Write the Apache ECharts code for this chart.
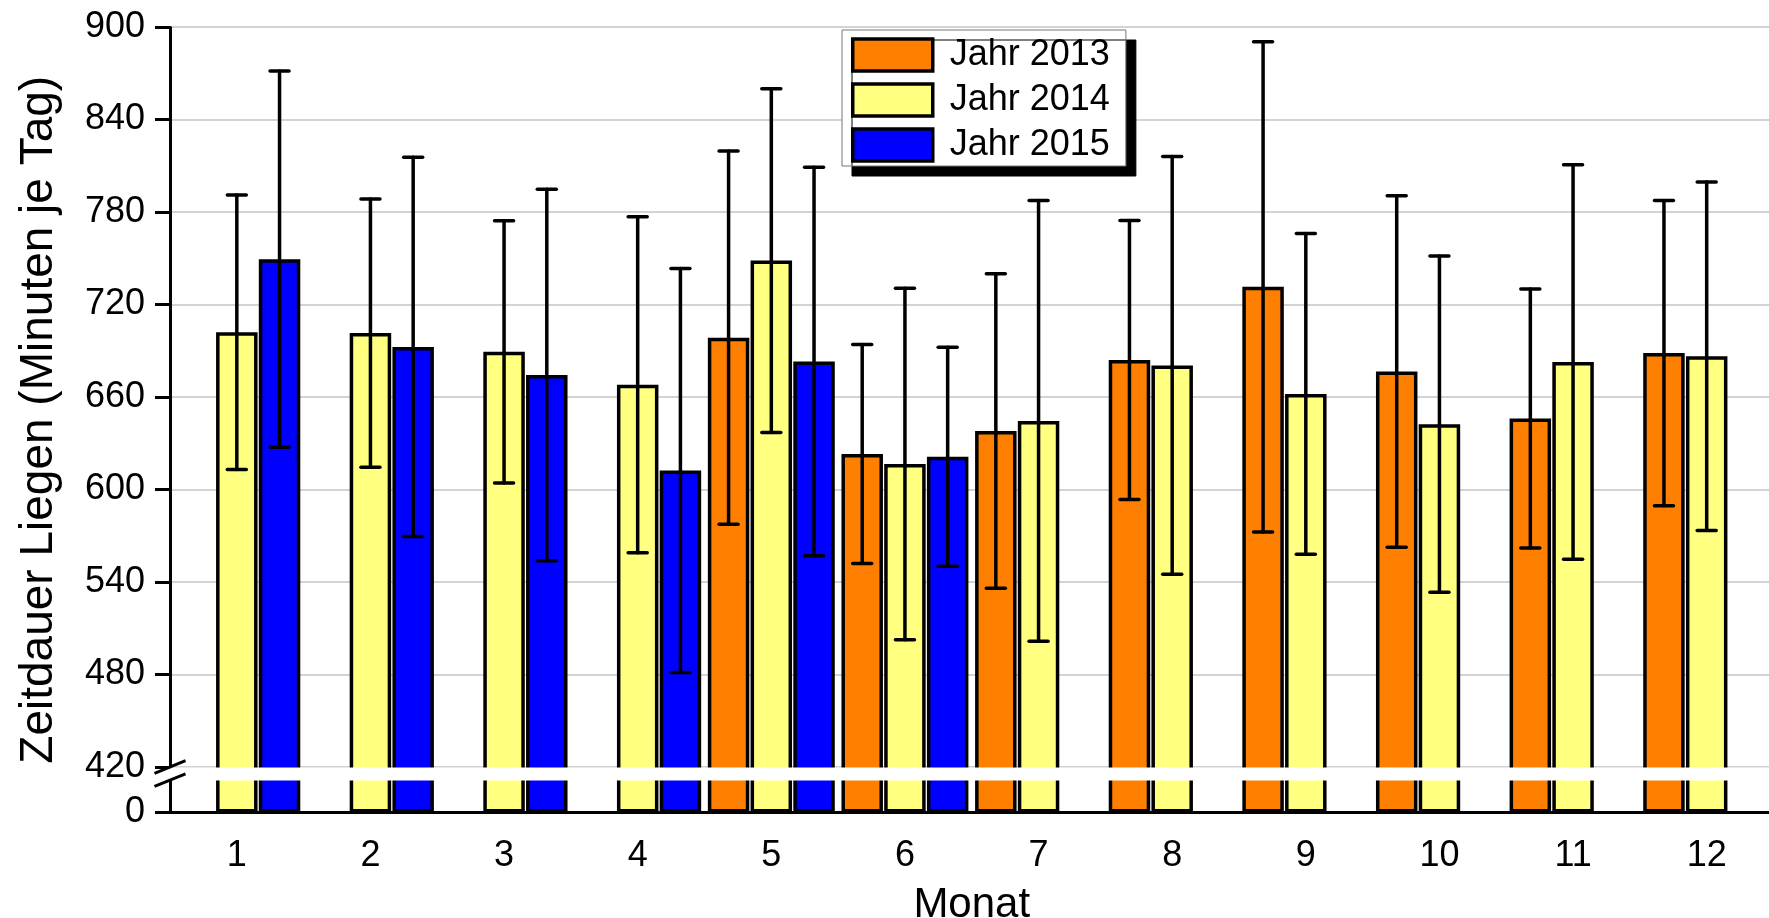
<!DOCTYPE html>
<html>
<head>
<meta charset="utf-8">
<script src="https://cdn.jsdelivr.net/npm/echarts@6/dist/echarts.min.js"></script>
<style>
  html, body { margin: 0; padding: 0; background: #fff; }
  #chart { width: 1769px; height: 918px; }
</style>
</head>
<body>
<div id="chart"></div>
<script>
// Monate
const months = ['1', '2', '3', '4', '5', '6', '7', '8', '9', '10', '11', '12']
const years = ['Jahr 2013', 'Jahr 2014', 'Jahr 2015']

// Mittelwerte (Minuten je Tag)
const mean2013 = [null, null, null, null, 698.5, 623, 638, 684, 731.5, 676.5, 646, 688.5]
const mean2014 = [702, 701.5, 689.3, 668, 748.5, 616.5, 644.5, 680.5, 662, 642.4, 682.7, 686.4]
const mean2015 = [749.4, 692.5, 674.3, 612.3, 683, 621.3, null, null, null, null, null, null]

// Standardabweichung
const sd2013 = [null, null, null, null, 121, 71, 102, 90.5, 159, 114, 84, 99]
const sd2014 = [89, 87, 85, 109, 111.5, 114, 143, 135.5, 104, 109, 128, 113]
const sd2015 = [122, 123, 120.5, 131, 126, 71, null, null, null, null, null, null]

// Achsenbeschriftung
const yTicks = [0, 420, 480, 540, 600, 660, 720, 780, 840, 900]

const colors = ['#FF8000', '#FFFF80', '#0000FF']
const CAT_GAP = 0.05
const BAR_GAP = 0.03
const FONT = 'Liberation Sans, Arial, sans-serif'

var myChart = echarts.init(document.getElementById('chart'))

// Fehlerbalken an der Position des jeweiligen Balkens
function errorBars(slot) {
  return function (params, api) {
    const i = api.value(0)
    const band = api.size([1, 0])[0]
    const w = band * (1 - CAT_GAP) / (3 + 2 * BAR_GAP)
    const total = w * (3 + 2 * BAR_GAP)
    const cx = api.coord([i, 0])[0] - total / 2 + slot * w * (1 + BAR_GAP) + w / 2
    const yLow = api.coord([i, api.value(1)])[1]
    const yHigh = api.coord([i, api.value(2)])[1]
    const half = 9.5
    const style = { stroke: '#000', lineWidth: 3.5, lineCap: 'round' }
    return {
      type: 'group',
      children: [
        { type: 'line', shape: { x1: cx, y1: yLow, x2: cx, y2: yHigh }, style: style },
        { type: 'line', shape: { x1: cx - half, y1: yHigh, x2: cx + half, y2: yHigh }, style: style },
        { type: 'line', shape: { x1: cx - half, y1: yLow, x2: cx + half, y2: yLow }, style: style },
      ],
    }
  }
}

function errData(mean, sd) {
  const out = []
  mean.forEach(function (m, i) {
    if (m != null) out.push([i, m - sd[i], m + sd[i]])
  })
  return out
}

const means = [mean2013, mean2014, mean2015]
const sds = [sd2013, sd2014, sd2015]

const series = []
years.forEach(function (name, k) {
  series.push({
    name: name,
    type: 'bar',
    data: means[k],
    barGap: BAR_GAP * 100 + '%',
    barCategoryGap: CAT_GAP * 100 + '%',
    z: 2,
    itemStyle: { color: colors[k], borderColor: '#000', borderWidth: 3.5 },
  })
})
years.forEach(function (name, k) {
  series.push({
    name: name + ' SD',
    type: 'custom',
    renderItem: errorBars(k),
    data: errData(means[k], sds[k]),
    encode: { x: 0, y: [1, 2] },
    z: 3,
    silent: true,
  })
})

var option = {
  animation: false,
  backgroundColor: '#fff',
  textStyle: { fontFamily: FONT },
  grid: { left: 170, top: 27, bottom: 105.5, right: -4.5, outerBoundsMode: 'none' },
  legend: {
    data: years,
    orient: 'vertical',
    left: 842,
    top: 30,
    padding: [7, 16, 3, 9],
    itemWidth: 80,
    itemHeight: 32,
    itemGap: 9,
    backgroundColor: '#fff',
    borderColor: '#777',
    borderWidth: 1,
    borderRadius: 0,
    shadowColor: '#000',
    shadowBlur: 0,
    shadowOffsetX: 10,
    shadowOffsetY: 10,
    icon: 'rect',
    itemStyle: { borderColor: '#000', borderWidth: 3.5 },
    textStyle: { fontSize: 36, lineHeight: 32, color: '#000', fontFamily: FONT, padding: [0, 0, 0, 12] },
  },
  xAxis: {
    type: 'category',
    data: months,
    name: 'Monat',
    nameLocation: 'middle',
    nameGap: 72,
    nameTextStyle: { fontSize: 42, color: '#000', fontFamily: FONT },
    axisLine: { lineStyle: { color: '#000', width: 3 } },
    axisTick: { alignWithLabel: true, length: 15, lineStyle: { color: '#000', width: 3 } },
    axisLabel: { fontSize: 36, color: '#000', margin: 26, fontFamily: FONT },
  },
  yAxis: {
    type: 'value',
    min: 0,
    max: 900,
    interval: 60,
    name: 'Zeitdauer Liegen (Minuten je Tag)',
    nameLocation: 'middle',
    nameGap: 108,
    nameTextStyle: { fontSize: 46, color: '#000', fontFamily: FONT },
    breaks: [{ start: 21, end: 420, gap: 8.5 }],
    breakArea: {
      show: true,
      expandOnClick: false,
      zigzagAmplitude: 0,
      zigzagZ: 100,
      itemStyle: { color: '#fff', borderColor: '#fff', borderWidth: 0, opacity: 1 },
    },
    axisLine: { show: true, lineStyle: { color: '#000', width: 3 } },
    axisTick: { show: true, length: 15, customValues: yTicks, lineStyle: { color: '#000', width: 3 } },
    axisLabel: { fontSize: 36, color: '#000', margin: 25, customValues: yTicks, fontFamily: FONT },
    splitLine: { show: true, lineStyle: { color: '#d3d3d3', width: 2 } },
  },
  series: series,
}

myChart.setOption(option)

// Bruchzeichen an der y-Achse
const gx = myChart.convertToPixel({ xAxisIndex: 0 }, 0) - myChart.convertToPixel({ xAxisIndex: 0 }, 1) / 2 + myChart.convertToPixel({ xAxisIndex: 0 }, 0) / 2
const yTop = myChart.convertToPixel({ yAxisIndex: 0 }, 420)
const yBot = myChart.convertToPixel({ yAxisIndex: 0 }, 21)
myChart.setOption({
  graphic: [
    { type: 'line', z: 200, shape: { x1: gx - 15.5, y1: yTop + 6.3, x2: gx + 15.5, y2: yTop - 6.3 }, style: { stroke: '#000', lineWidth: 3 } },
    { type: 'line', z: 200, shape: { x1: gx - 15.5, y1: yBot + 6.3, x2: gx + 15.5, y2: yBot - 6.3 }, style: { stroke: '#000', lineWidth: 3 } },
  ],
})
</script>
</body>
</html>
